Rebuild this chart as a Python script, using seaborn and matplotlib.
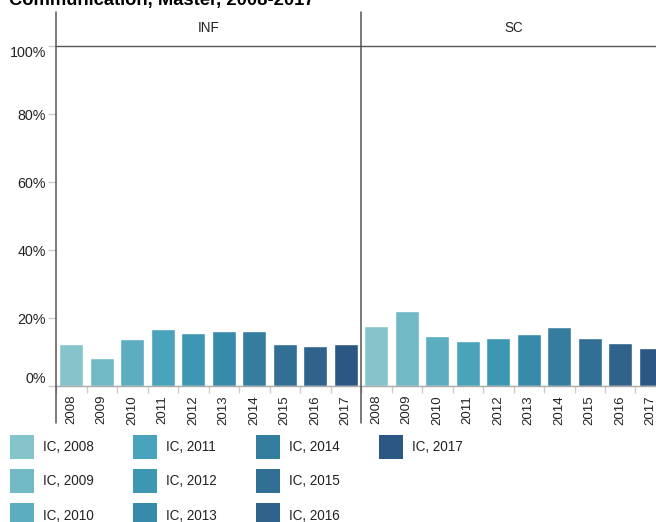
#!/usr/bin/env python3
"""Share of IC students per year, Communication master, split by programme (INF / SC)."""

import matplotlib

matplotlib.use("Agg")
import matplotlib.pyplot as plt
import pandas as pd
import seaborn as sns
from matplotlib.lines import Line2D
from matplotlib.patches import Patch
from matplotlib.ticker import FixedLocator, FuncFormatter

TITLE = "Communication, Master, 2008-2017"
PROGRAMS = ["INF", "SC"]
YEARS = ["2008", "2009", "2010", "2011", "2012", "2013", "2014", "2015", "2016", "2017"]
INF_SHARE = [12.4, 8.2, 13.8, 16.8, 15.6, 16.2, 16.2, 12.4, 11.8, 12.4]
SC_SHARE = [17.6, 22.1, 14.7, 13.2, 14.1, 15.3, 17.4, 14.1, 12.6, 11.2]
COLORS = [
    "#84c5cc", "#70b9c5", "#5badbf", "#48a3bb", "#3e97b2",
    "#378aaa", "#357d9f", "#316f94", "#2f638b", "#2c5683",
]

W, H = 656, 522
AX_LEFT, AX_TOP, AX_BOTTOM, PANEL_W = 56, 46, 386, 305
TEXT = "#222222"
DARK = "#555555"
LIGHT = "#cccccc"
PX = 0.72  # points per pixel at dpi 100

sns.set_theme(style="white")
plt.rcParams["font.family"] = ["Liberation Sans", "DejaVu Sans"]

df = pd.DataFrame(
    {
        "program": [p for p in PROGRAMS for _ in YEARS],
        "year": YEARS * len(PROGRAMS),
        "share": INF_SHARE + SC_SHARE,
    }
)
palette = dict(zip(YEARS, COLORS))

fig = plt.figure(figsize=(W / 100, H / 100), dpi=100)
for i, prog in enumerate(PROGRAMS):
    left = AX_LEFT + i * PANEL_W
    ax = fig.add_axes(
        [left / W, 1 - AX_BOTTOM / H, PANEL_W / W, (AX_BOTTOM - AX_TOP) / H]
    )
    sns.barplot(
        data=df[df.program == prog],
        x="year",
        y="share",
        hue="year",
        order=YEARS,
        hue_order=YEARS,
        palette=palette,
        saturation=1,
        width=0.79,
        legend=False,
        ax=ax,
    )
    ax.set_xlim(-0.5, len(YEARS) - 0.5)
    ax.set_ylim(0, 100)
    ax.set_xlabel("")
    ax.set_ylabel("")

    # band ticks sit between the bars, labels under the bar centres
    ax.xaxis.set_minor_locator(FixedLocator([k - 0.5 for k in range(len(YEARS) + 1)]))
    ax.tick_params(axis="x", which="major", length=0, pad=9 * PX, labelsize=9.5,
                   labelcolor=TEXT, rotation=90)
    ax.tick_params(axis="x", which="minor", length=7 * PX, width=1, color=LIGHT,
                   bottom=True)

    ax.set_yticks(range(0, 101, 20))
    if i == 0:
        ax.yaxis.set_major_formatter(FuncFormatter(lambda v, _: f"{v:.0f}%"))
        ax.tick_params(axis="y", length=8 * PX, width=1, color=LIGHT, pad=2 * PX,
                       labelsize=10.25, labelcolor=TEXT, left=True)
        labels = ax.get_yticklabels()
        labels[0].set_verticalalignment("bottom")
        labels[-1].set_verticalalignment("top")
    else:
        ax.tick_params(axis="y", length=0, labelleft=False)

    for side in ("left", "right"):
        ax.spines[side].set_visible(False)
    ax.spines["top"].set_color(DARK)
    ax.spines["top"].set_linewidth(1)
    ax.spines["bottom"].set_color("#aaaaaa")
    ax.spines["bottom"].set_linewidth(1)

    ax.text(0.5, 1 + 18 / (AX_BOTTOM - AX_TOP), prog, transform=ax.transAxes,
            ha="center", va="center", fontsize=9.75, color=TEXT)

# facet dividers run from the header down past the year labels
for x in (AX_LEFT, AX_LEFT + PANEL_W):
    fig.add_artist(Line2D([x / W, x / W], [1 - 12 / H, 1 - 423 / H],
                          color=DARK, lw=1.1))

fig.text(9 / W, 1 - 5 / H, TITLE, fontsize=13.25, fontweight="bold",
         color="black", va="baseline", ha="left")

# two blank entries so the columns fill 3, 3, 3, 1 like the original
handles = [Patch(facecolor=c, edgecolor="none") for c in COLORS]
handles += [Patch(facecolor="none", edgecolor="none")] * 2
labels = [f"IC, {y}" for y in YEARS] + ["", ""]
fig.legend(
    handles,
    labels,
    loc="upper left",
    bbox_to_anchor=(10 / W, 1 - 435 / H),
    ncol=4,
    frameon=False,
    fontsize=9.75,
    handlelength=1.78,
    handleheight=2.36,
    handletextpad=0.65,
    labelspacing=0.75,
    columnspacing=2.9,
    borderpad=0,
    borderaxespad=0,
    labelcolor=TEXT,
)

fig.savefig("out.png", dpi=100)
